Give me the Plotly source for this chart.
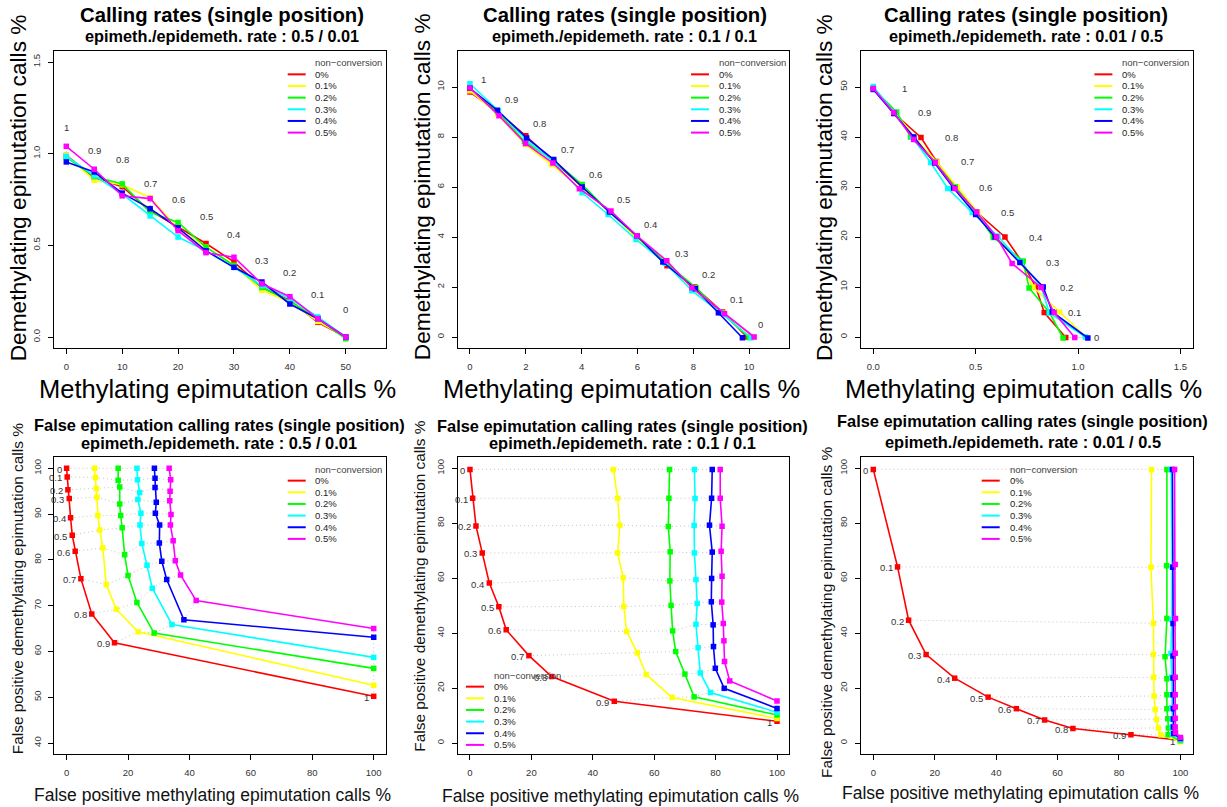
import plotly.graph_objects as go

W, H = 1227, 807

SERIES = ["0%", "0.1%", "0.2%", "0.3%", "0.4%", "0.5%"]
COLORS = ["#FF0000", "#FFFF00", "#00FF00", "#00FFFF", "#0000FF", "#FF00FF"]
THRESHOLDS = ["0", "0.1", "0.2", "0.3", "0.4", "0.5", "0.6", "0.7", "0.8", "0.9", "1"]

# ---- Calling rates, epimeth./epidemeth. rate 0.5 / 0.01 (threshold 0 -> 1) ----
tl_meth = [
    [50, 45, 40, 35, 30, 25, 20, 15, 10, 5, 0],
    [50, 45, 40, 35, 30, 25, 20, 15, 10, 5, 0],
    [50, 45, 40, 35, 30, 25, 20, 15, 10, 5, 0],
    [50, 45, 40, 35, 30, 25, 20, 15, 10, 5, 0],
    [50, 45, 40, 35, 30, 25, 20, 15, 10, 5, 0],
    [50, 45, 40, 35, 30, 25, 20, 15, 10, 5, 0],
]
tl_demeth = [
    [0.0, 0.08, 0.20, 0.27, 0.41, 0.51, 0.60, 0.69, 0.82, 0.87, 0.99],
    [0.0, 0.085, 0.19, 0.255, 0.39, 0.49, 0.59, 0.76, 0.83, 0.855, 0.99],
    [-0.01, 0.10, 0.195, 0.27, 0.39, 0.49, 0.625, 0.68, 0.835, 0.875, 0.98],
    [0.0, 0.11, 0.21, 0.28, 0.38, 0.47, 0.545, 0.66, 0.78, 0.88, 0.985],
    [0.0, 0.10, 0.18, 0.30, 0.38, 0.47, 0.595, 0.70, 0.785, 0.90, 0.955],
    [0.0, 0.10, 0.22, 0.29, 0.435, 0.46, 0.58, 0.755, 0.77, 0.915, 1.04],
]

# ---- Calling rates, 0.1 / 0.1 ----
tm_meth = [
    [9.92, 9.05, 8.05, 7.06, 5.98, 5.0, 4.0, 3.0, 2.0, 1.0, 0.0],
    [10.13, 9.1, 7.98, 7.05, 5.95, 5.05, 3.95, 2.92, 1.98, 0.98, 0.0],
    [10.0, 9.0, 8.1, 7.0, 6.0, 5.0, 4.02, 3.0, 1.95, 1.0, 0.0],
    [10.07, 9.0, 7.95, 7.0, 5.95, 4.95, 4.02, 3.0, 2.0, 1.02, 0.0],
    [9.76, 8.9, 8.07, 6.91, 5.98, 5.0, 4.02, 3.0, 2.03, 0.98, 0.0],
    [10.18, 9.12, 7.95, 7.05, 5.98, 5.05, 3.92, 2.97, 1.99, 1.04, 0.0],
]
tm_demeth = [
    [0.0, 1.0, 2.0, 2.85, 4.0, 5.0, 6.0, 7.0, 8.05, 9.0, 9.8],
    [0.0, 0.95, 1.9, 3.0, 3.95, 5.0, 5.95, 6.9, 7.7, 8.92, 9.85],
    [-0.02, 0.98, 1.97, 3.0, 4.0, 5.0, 6.1, 7.05, 7.83, 9.0, 9.95],
    [-0.03, 0.95, 1.85, 2.95, 3.9, 4.9, 5.77, 7.0, 7.9, 9.05, 10.13],
    [-0.03, 0.97, 1.93, 3.0, 4.05, 5.0, 6.0, 7.1, 7.96, 9.07, 9.95],
    [0.0, 0.93, 1.97, 3.05, 4.05, 5.04, 5.93, 6.96, 7.74, 8.85, 9.96],
]

# ---- Calling rates, 0.01 / 0.5 ----
tr_meth = [
    [0.94, 0.835, 0.794, 0.727, 0.643, 0.504, 0.40, 0.309, 0.233, 0.10, 0.0],
    [1.04, 0.91, 0.78, 0.72, 0.60, 0.51, 0.41, 0.31, 0.20, 0.11, 0.0],
    [0.927, 0.86, 0.761, 0.732, 0.586, 0.50, 0.40, 0.30, 0.182, 0.114, 0.0],
    [1.036, 0.86, 0.82, 0.72, 0.608, 0.483, 0.364, 0.28, 0.19, 0.10, 0.0],
    [1.048, 0.874, 0.83, 0.716, 0.595, 0.50, 0.392, 0.30, 0.198, 0.10, 0.0],
    [0.984, 0.883, 0.82, 0.678, 0.602, 0.505, 0.399, 0.303, 0.197, 0.10, 0.0],
]
tr_demeth = [
    [-0.1, 4.9, 10.0, 15.0, 20.0, 25.0, 30.0, 35.1, 39.9, 44.8, 49.7],
    [0.0, 5.0, 10.0, 15.0, 20.0, 25.0, 30.0, 35.0, 40.0, 44.8, 49.7],
    [-0.2, 4.9, 9.8, 15.2, 19.9, 25.0, 30.0, 35.0, 40.0, 45.0, 49.7],
    [0.0, 4.8, 10.0, 15.0, 20.2, 24.9, 29.7, 34.9, 40.0, 45.0, 50.1],
    [-0.2, 5.0, 10.0, 14.9, 20.0, 24.5, 29.8, 34.8, 40.0, 44.7, 49.5],
    [-0.1, 4.9, 9.9, 14.7, 20.0, 25.0, 29.7, 34.9, 39.5, 44.9, 49.7],
]

# ---- False epimutation calling rates, 0.5 / 0.01 ----
bl_fp_meth = [
    [0.0, 0.2, 0.43, 0.87, 1.3, 1.84, 2.8, 4.66, 8.2, 15.6, 100],
    [9.1, 9.4, 9.65, 9.87, 10.2, 10.8, 11.8, 12.9, 16.2, 23.3, 100],
    [16.8, 16.8, 17.3, 17.3, 17.6, 18.1, 18.9, 20.0, 22.9, 28.5, 100],
    [22.9, 23.1, 23.8, 23.2, 24.2, 23.9, 24.5, 26.2, 27.9, 34.3, 100],
    [28.6, 28.8, 28.8, 29.2, 28.9, 30.3, 30.2, 31.0, 32.6, 38.2, 100],
    [33.4, 33.9, 33.7, 33.6, 34.0, 33.8, 34.7, 35.4, 37.1, 42.2, 100],
]
bl_fp_demeth = [
    [100, 98.1, 95.3, 93.4, 89.2, 85.4, 81.9, 75.9, 68.2, 61.9, 50.2],
    [100, 98.0, 95.6, 93.7, 89.7, 86.5, 82.6, 74.6, 69.2, 64.3, 52.6],
    [100, 97.4, 95.9, 92.2, 89.7, 87.0, 81.1, 76.6, 70.7, 64.0, 56.3],
    [100, 97.5, 94.7, 93.2, 90.2, 87.6, 83.6, 78.8, 73.8, 65.9, 58.7],
    [100, 97.8, 95.8, 92.6, 90.2, 87.6, 83.7, 79.7, 75.7, 66.9, 63.1],
    [100, 97.5, 95.0, 92.9, 89.9, 87.6, 84.2, 79.8, 76.7, 71.1, 65.0],
]

# ---- False epimutation calling rates, 0.1 / 0.1 ----
bm_fp_meth = [
    [0.0, 0.87, 1.95, 4.0, 6.3, 9.4, 11.8, 19.2, 26.6, 47.0, 100],
    [46.7, 48.1, 48.8, 48.1, 49.9, 50.1, 51.0, 54.5, 57.4, 65.8, 100],
    [65.0, 64.8, 64.6, 65.2, 65.1, 65.5, 66.0, 67.0, 70.0, 73.0, 100],
    [73.1, 73.3, 73.0, 73.1, 73.6, 74.0, 73.6, 74.3, 75.0, 78.3, 100],
    [78.9, 78.7, 78.0, 78.9, 78.7, 78.6, 79.2, 79.3, 79.9, 82.8, 100],
    [81.5, 81.5, 82.1, 81.8, 82.1, 82.0, 82.5, 82.7, 82.9, 84.6, 100],
]
bm_fp_demeth = [
    [99.6, 89.1, 79.0, 69.2, 58.2, 49.6, 41.2, 31.8, 24.2, 15.2, 7.9],
    [99.6, 89.1, 79.3, 69.2, 60.2, 49.7, 40.6, 32.8, 24.9, 16.6, 8.9],
    [99.6, 89.1, 78.8, 69.6, 59.0, 50.1, 40.8, 33.3, 25.1, 16.8, 10.2],
    [99.6, 89.0, 79.2, 69.2, 59.5, 50.8, 43.2, 34.7, 25.5, 18.4, 11.2],
    [99.6, 89.1, 79.3, 69.5, 59.9, 51.4, 43.0, 35.1, 27.2, 19.9, 12.6],
    [99.6, 89.1, 78.9, 69.8, 60.7, 51.3, 43.5, 37.2, 29.7, 22.6, 15.3],
]

# ---- False epimutation calling rates, 0.01 / 0.5 ----
br_fp_meth = [
    [0.0, 7.9, 11.5, 17.2, 26.5, 37.4, 46.6, 55.8, 65.0, 83.9, 100],
    [90.6, 90.4, 91.2, 91.2, 91.3, 91.4, 91.8, 92.2, 92.8, 93.6, 100],
    [95.6, 95.5, 95.6, 95.0, 95.6, 95.6, 95.6, 95.9, 96.1, 96.0, 100],
    [97.0, 97.3, 97.2, 96.9, 97.2, 97.3, 97.2, 97.3, 97.3, 97.4, 100],
    [97.4, 97.5, 97.6, 97.6, 97.6, 97.6, 97.7, 97.7, 97.7, 97.8, 100],
    [98.1, 98.3, 98.4, 98.3, 98.3, 98.3, 98.3, 98.3, 98.3, 98.4, 100],
]
br_fp_demeth = [
    [99.6, 64.1, 44.7, 32.2, 23.6, 16.7, 12.5, 8.4, 5.3, 3.0, 1.0],
    [99.6, 64.0, 43.6, 32.2, 23.9, 17.1, 12.2, 8.6, 5.5, 3.0, 0.5],
    [99.6, 64.5, 45.3, 31.4, 23.4, 17.6, 12.5, 8.8, 5.5, 3.0, 0.8],
    [99.6, 64.2, 45.0, 32.6, 24.0, 17.6, 12.8, 8.8, 5.8, 3.3, 1.2],
    [99.6, 64.0, 43.5, 31.7, 23.7, 17.6, 12.5, 8.7, 5.8, 3.5, 1.6],
    [99.6, 65.0, 45.3, 32.7, 23.9, 17.6, 13.1, 9.0, 5.8, 3.8, 2.0],
]

FONT = "Liberation Sans, Arial, Helvetica, sans-serif"
TOP_TITLE = "Calling rates (single position)"
BOT_TITLE = "False epimutation calling rates (single position)"
SUBTITLES = ["epimeth./epidemeth. rate : 0.5 / 0.01",
             "epimeth./epidemeth. rate : 0.1 / 0.1",
             "epimeth./epidemeth. rate : 0.01 / 0.5"]


def fx(p):
    return p / W


def fy(p):
    return 1 - p / H


# panel layout: plot box in pixels (left, top, right, bottom), axis ranges, ticks
panels = [
    dict(box=(54, 51, 386, 348), data=(tl_meth, tl_demeth),
         xr=[-2.2, 57.2], yr=[-0.06, 1.56],
         xt=[0, 10, 20, 30, 40, 50], yt=[0, 0.5, 1.0, 1.5], ytt=["0.0", "0.5", "1.0", "1.5"],
         lab=("top", 0.0, 0.15), legend="topright"),
    dict(box=(457.7, 51, 789.3, 348), data=(tm_meth, tm_demeth),
         xr=[-0.44, 11.44], yr=[-0.44, 11.44],
         xt=[0, 2, 4, 6, 8, 10], yt=[0, 2, 4, 6, 8, 10],
         lab=("top", 0.5, 0.5), legend="topright"),
    dict(box=(861, 51, 1192.7, 348), data=(tr_meth, tr_demeth),
         xr=[-0.06, 1.56], yr=[-2.2, 57.2],
         xt=[0, 0.5, 1.0, 1.5], xtt=["0.0", "0.5", "1.0", "1.5"], yt=[0, 10, 20, 30, 40, 50],
         lab=("top", 0.15, 0.0), legend="topright"),
    dict(box=(54.3, 457.3, 386, 754), data=(bl_fp_meth, bl_fp_demeth),
         xr=[-4, 104], yr=[37.6, 102.4],
         xt=[0, 20, 40, 60, 80, 100], yt=[40, 50, 60, 70, 80, 90, 100],
         lab=("left", 0, 0), legend="topright"),
    dict(box=(457.7, 457.3, 789.3, 754), data=(bm_fp_meth, bm_fp_demeth),
         xr=[-4, 104], yr=[-4, 104],
         xt=[0, 20, 40, 60, 80, 100], yt=[0, 20, 40, 60, 80, 100],
         lab=("left", 0, 0), legend="bottomleft"),
    dict(box=(861, 457.3, 1192.7, 754), data=(br_fp_meth, br_fp_demeth),
         xr=[-4, 104], yr=[-4, 104],
         xt=[0, 20, 40, 60, 80, 100], yt=[0, 20, 40, 60, 80, 100],
         lab=("left", 0, 0), legend="top"),
]

fig = go.Figure()
annotations = []
shapes = []
layout_axes = {}

for i, p in enumerate(panels):
    n = "" if i == 0 else str(i + 1)
    xa, ya = "x" + n, "y" + n
    l, t, r, b = p["box"]
    xs, ys = p["data"]

    # dotted connectors joining equal thresholds across non-conversion levels
    cx, cy = [], []
    for k in range(len(THRESHOLDS)):
        for s in range(len(SERIES)):
            cx.append(xs[s][k])
            cy.append(ys[s][k])
        cx.append(None)
        cy.append(None)
    fig.add_trace(go.Scatter(x=cx, y=cy, mode="lines", xaxis=xa, yaxis=ya,
                             line=dict(color="#C4C4C4", width=1, dash="1px,3px"),
                             showlegend=False, hoverinfo="skip"))

    for s in range(len(SERIES)):
        fig.add_trace(go.Scatter(x=xs[s], y=ys[s], mode="lines+markers", xaxis=xa, yaxis=ya,
                                 name=SERIES[s], showlegend=False,
                                 line=dict(color=COLORS[s], width=1.6),
                                 marker=dict(color=COLORS[s], size=5.5, symbol="square")))

    # threshold labels next to the 0% series
    kind, dx, dy = p["lab"]
    for k, lab in enumerate(THRESHOLDS):
        if kind == "top":
            annotations.append(dict(x=xs[0][k] + dx, y=ys[0][k] + dy, xref=xa, yref=ya,
                                    text=lab, showarrow=False, xanchor="center", yanchor="middle",
                                    font=dict(size=9.5, color="#333333", family=FONT)))
        else:
            annotations.append(dict(x=xs[0][k], y=ys[0][k], xref=xa, yref=ya,
                                    text=lab, showarrow=False, xanchor="right", yanchor="middle",
                                    xshift=-3, yshift=-1,
                                    font=dict(size=9.5, color="#333333", family=FONT)))

    axis_common = dict(showline=True, mirror=True, linecolor="black", linewidth=1,
                       ticks="outside", ticklen=5, tickcolor="black", tickwidth=1,
                       showgrid=False, zeroline=False,
                       tickfont=dict(size=9.5, color="#333333", family=FONT))
    layout_axes["xaxis" + n] = dict(axis_common, domain=[fx(l), fx(r)], range=p["xr"],
                                    anchor=ya, tickvals=p["xt"],
                                    ticktext=p.get("xtt", [str(v) for v in p["xt"]]),
                                    ticklabelstandoff=5)
    layout_axes["yaxis" + n] = dict(axis_common, domain=[fy(b), fy(t)], range=p["yr"],
                                    anchor=xa, tickvals=p["yt"],
                                    ticktext=p.get("ytt", [str(v) for v in p["yt"]]),
                                    tickangle=-90, ticklabelstandoff=4)

    # legend (drawn manually to keep the compact R-style spacing)
    if p["legend"] == "topright":
        kx0, tx, ty0 = r - 98.3, r - 72.7, t + 11.7
    elif p["legend"] == "top":
        kx0, tx, ty0 = 981.7, 1007.7, t + 11.7
    else:
        kx0, tx, ty0 = l + 8.3, l + 34.3, b - 79
    annotations.append(dict(x=fx(tx), y=fy(ty0), xref="paper", yref="paper",
                            text="non\u2212conversion", showarrow=False,
                            xanchor="left", yanchor="middle",
                            font=dict(size=9.5, color="#444444", family=FONT)))
    for s in range(len(SERIES)):
        yy = ty0 + 11.65 * (s + 1)
        shapes.append(dict(type="line", xref="paper", yref="paper",
                           x0=fx(kx0), x1=fx(kx0 + 18), y0=fy(yy), y1=fy(yy),
                           line=dict(color=COLORS[s], width=2)))
        annotations.append(dict(x=fx(tx), y=fy(yy), xref="paper", yref="paper",
                                text=SERIES[s], showarrow=False,
                                xanchor="left", yanchor="middle",
                                font=dict(size=9.5, color="#222222", family=FONT)))

# titles
top_title_x = [221.5, 624.5, 1025.8]
for j in range(3):
    annotations.append(dict(x=fx(top_title_x[j]), y=fy(15), xref="paper", yref="paper",
                            text="<b>" + TOP_TITLE + "</b>", showarrow=False,
                            xanchor="center", yanchor="middle",
                            font=dict(size=20.3, color="black", family=FONT)))
    annotations.append(dict(x=fx(top_title_x[j]), y=fy(35.5), xref="paper", yref="paper",
                            text="<b>" + SUBTITLES[j] + "</b>", showarrow=False,
                            xanchor="center", yanchor="middle",
                            font=dict(size=16.3, color="black", family=FONT)))

bot_title_x = [219, 622, 1022.5]
bot_title_y = [(425, 442.7), (426, 442.7), (420.7, 441.7)]
for j in range(3):
    annotations.append(dict(x=fx(bot_title_x[j]), y=fy(bot_title_y[j][0]), xref="paper", yref="paper",
                            text="<b>" + BOT_TITLE + "</b>", showarrow=False,
                            xanchor="center", yanchor="middle",
                            font=dict(size=16.4, color="black", family=FONT)))
    annotations.append(dict(x=fx(bot_title_x[j]), y=fy(bot_title_y[j][1]), xref="paper", yref="paper",
                            text="<b>" + SUBTITLES[j] + "</b>", showarrow=False,
                            xanchor="center", yanchor="middle",
                            font=dict(size=16.4, color="black", family=FONT)))

# axis titles
top_xlab_x = [217.8, 621.5, 1023]
top_ylab = [(18.3, 188), (421.7, 186.5), (824, 188)]
for j in range(3):
    annotations.append(dict(x=fx(top_xlab_x[j]), y=fy(389), xref="paper", yref="paper",
                            text="Methylating epimutation calls %", showarrow=False,
                            xanchor="center", yanchor="middle",
                            font=dict(size=25.5, color="black", family=FONT)))
    annotations.append(dict(x=fx(top_ylab[j][0]), y=fy(top_ylab[j][1]), xref="paper", yref="paper",
                            text="Demethylating epimutation calls %", showarrow=False,
                            textangle=-90, xanchor="center", yanchor="middle",
                            font=dict(size=22.7, color="black", family=FONT)))

bot_xlab = [(212, 795), (620.7, 795.5), (1020, 792.7)]
bot_ylab = [(17.5, 588.7), (420, 586.7), (826, 613)]
for j in range(3):
    annotations.append(dict(x=fx(bot_xlab[j][0]), y=fy(bot_xlab[j][1]), xref="paper", yref="paper",
                            text="False positive methylating epimutation calls %", showarrow=False,
                            xanchor="center", yanchor="middle",
                            font=dict(size=17.5, color="#111111", family=FONT)))
    annotations.append(dict(x=fx(bot_ylab[j][0]), y=fy(bot_ylab[j][1]), xref="paper", yref="paper",
                            text="False positive demethylating epimutation calls %", showarrow=False,
                            textangle=-90, xanchor="center", yanchor="middle",
                            font=dict(size=15.4, color="#111111", family=FONT)))

fig.update_layout(
    width=W, height=H,
    margin=dict(l=0, r=0, t=0, b=0),
    paper_bgcolor="white", plot_bgcolor="white",
    showlegend=False,
    annotations=annotations,
    shapes=shapes,
    font=dict(family=FONT),
    **layout_axes,
)

fig.write_html("out.html")
